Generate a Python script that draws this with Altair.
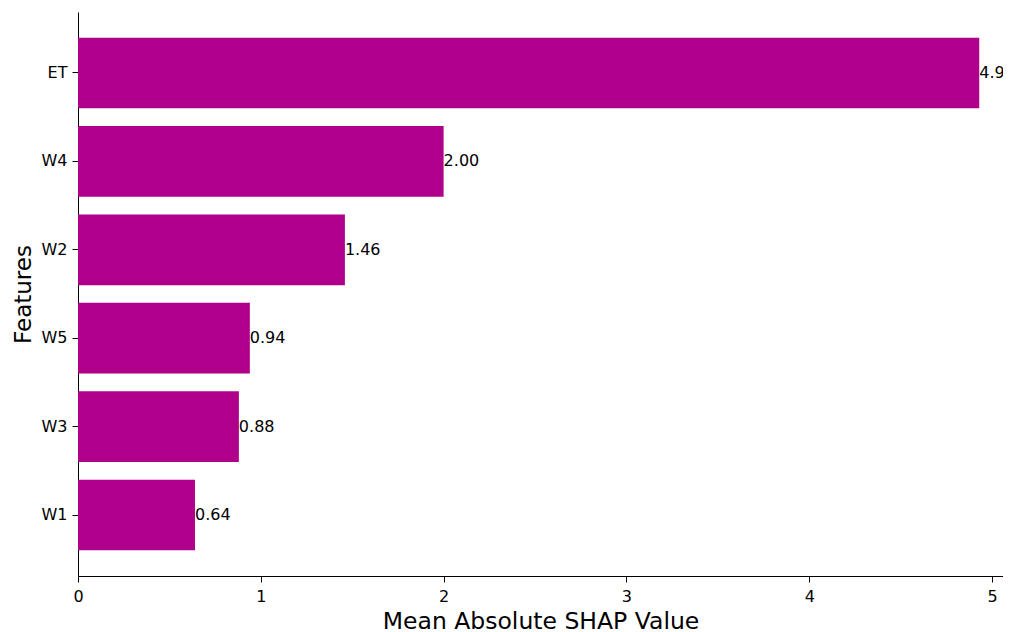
import altair as alt
import pandas as pd

features = ["ET", "W4", "W2", "W5", "W3", "W1"]
values = [4.93, 2.00, 1.46, 0.94, 0.88, 0.64]

df = pd.DataFrame({"Feature": features, "Value": values})
df["Label"] = [f"{v:.2f}" for v in values]

FONT = "DejaVu Sans"
COLOR = "#B0008B"

x_enc = alt.X("Value:Q", title="Mean Absolute SHAP Value",
              scale=alt.Scale(domain=[0, 5.06], nice=False, zero=True),
              axis=alt.Axis(values=[0, 1, 2, 3, 4, 5], format="d", grid=False,
                            labelFlush=False,
                            domainColor="black", tickColor="black", tickSize=6,
                            labelFontSize=16, labelColor="black", labelPadding=6,
                            labelFont=FONT, titleFont=FONT, titleFontSize=23.5,
                            titleFontWeight="normal", titleColor="black",
                            titleY=52, titleBaseline="alphabetic"))
y_enc = alt.Y("Feature:N", sort=features, title="Features",
              scale=alt.Scale(paddingInner=0.2, paddingOuter=0.29),
              axis=alt.Axis(grid=False, domainColor="black", tickColor="black", tickSize=6,
                            labelFontSize=16, labelColor="black", labelPadding=5,
                            labelFont=FONT, titleFont=FONT, titleFontSize=23,
                            titleFontWeight="normal", titleColor="black", titlePadding=6))

bars = alt.Chart(df).mark_bar(color=COLOR).encode(x=x_enc, y=y_enc)
labels = alt.Chart(df).mark_text(align="left", baseline="middle", dx=0, fontSize=16,
                                 font=FONT, color="black", clip=True).encode(
    x=alt.X("Value:Q"), y=alt.Y("Feature:N", sort=features), text="Label:N")

chart = (bars + labels).properties(
    width=925, height=564,
    autosize=alt.AutoSizeParams(type="none"),
    padding={"left": 70, "top": 4, "right": 0, "bottom": 56},
    background="white",
).configure_view(stroke=None)

chart.save("out.html", embed_options={"renderer": "svg", "actions": False})
